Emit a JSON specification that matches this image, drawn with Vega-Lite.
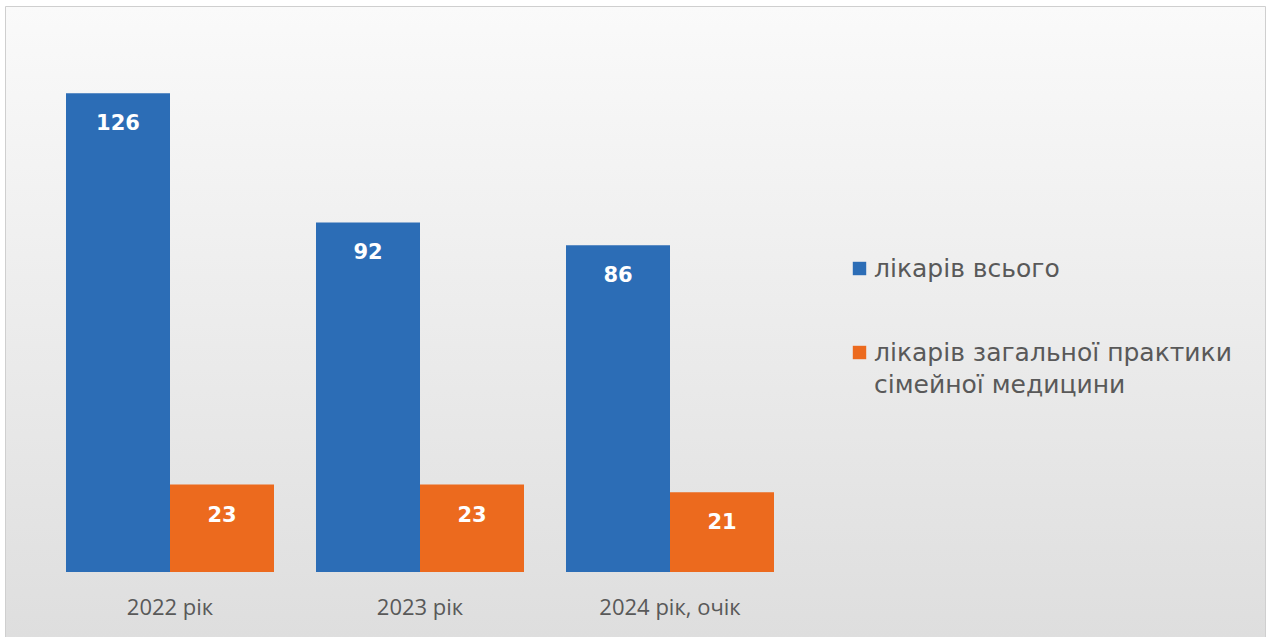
{
  "$schema": "https://vega.github.io/schema/vega-lite/v6.json",
  "width": 1260,
  "height": 631,
  "autosize": {"type": "none"},
  "padding": {"left": 5, "top": 6, "right": 8, "bottom": 0},
  "background": "#ffffff",
  "config": {
    "view": {
      "stroke": "#cfcfcf",
      "strokeWidth": 1,
      "fill": {
        "gradient": "linear",
        "x1": 0, "y1": 0, "x2": 0, "y2": 1,
        "stops": [
          {"offset": 0, "color": "#fafafa"},
          {"offset": 0.5, "color": "#ececec"},
          {"offset": 1, "color": "#dedede"}
        ]
      }
    },
    "style": {"guide-label": {"lineHeight": 32}},
    "font": "Open Sans"
  },
  "data": {
    "values": [
      {"year": "2022 рік", "series": "лікарів всього", "value": 126},
      {"year": "2022 рік", "series": "лікарів загальної практики сімейної медицини", "value": 23},
      {"year": "2023 рік", "series": "лікарів всього", "value": 92},
      {"year": "2023 рік", "series": "лікарів загальної практики сімейної медицини", "value": 23},
      {"year": "2024 рік, очік", "series": "лікарів всього", "value": 86},
      {"year": "2024 рік, очік", "series": "лікарів загальної практики сімейної медицини", "value": 21}
    ]
  },
  "encoding": {
    "x": {
      "field": "year",
      "type": "nominal",
      "sort": null,
      "scale": {"range": [40, 790], "paddingInner": 0.168, "paddingOuter": 0.084},
      "axis": {
        "title": null,
        "orient": "bottom",
        "offset": -65,
        "labelAngle": 0,
        "labelFontSize": 22,
        "labelColor": "#595959",
        "labelPadding": 25,
        "ticks": false,
        "domain": false,
        "grid": false
      }
    },
    "xOffset": {
      "field": "series",
      "type": "nominal",
      "sort": ["лікарів всього", "лікарів загальної практики сімейної медицини"],
      "scale": {"paddingInner": 0, "paddingOuter": 0}
    },
    "y": {
      "field": "value",
      "type": "quantitative",
      "scale": {"domain": [0, 148.95], "range": [566, 0], "nice": false, "zero": true},
      "axis": null
    }
  },
  "layer": [
    {
      "mark": {"type": "bar"},
      "encoding": {
        "color": {
          "field": "series",
          "type": "nominal",
          "sort": ["лікарів всього", "лікарів загальної практики сімейної медицини"],
          "scale": {
            "domain": ["лікарів всього", "лікарів загальної практики сімейної медицини"],
            "range": ["#2c6db6", "#ec6a1e"]
          },
          "legend": {
            "title": null,
            "orient": "none",
            "legendX": 842,
            "legendY": 250,
            "padding": 0,
            "symbolType": "square",
            "symbolSize": 180,
            "symbolStrokeWidth": 0,
            "labelFont": "DejaVu Sans",
            "labelFontSize": 25,
            "labelColor": "#595959",
            "labelLimit": 500,
            "labelOffset": 2,
            "rowPadding": 58,
            "labelExpr": "datum.label == 'лікарів загальної практики сімейної медицини' ? ['лікарів загальної практики', 'сімейної медицини'] : datum.label"
          }
        }
      }
    },
    {
      "mark": {
        "type": "text",
        "baseline": "middle",
        "dy": 31,
        "font": "DejaVu Sans",
        "fontWeight": "bold",
        "fontSize": 21,
        "color": "#ffffff"
      },
      "encoding": {
        "text": {"field": "value", "type": "quantitative"}
      }
    }
  ]
}
